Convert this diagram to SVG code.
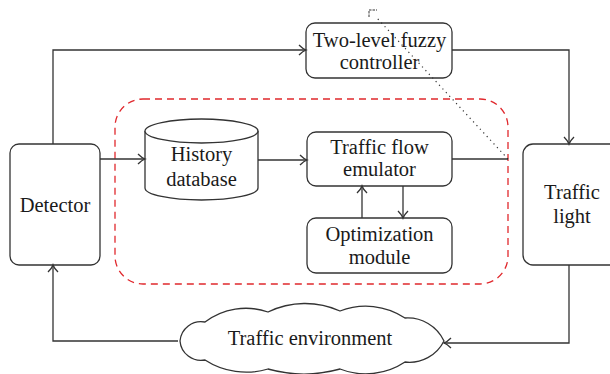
<svg xmlns="http://www.w3.org/2000/svg" width="610" height="374" viewBox="0 0 610 374">
<defs>
<style>
.box{fill:#fff;stroke:#333;stroke-width:1.3}
.ln{fill:none;stroke:#333;stroke-width:1.3}
.t{font-family:"Liberation Serif","Times New Roman",serif;font-size:20.5px;fill:#1a1a1a;text-anchor:middle}
</style>
<marker id="arr" viewBox="-10 -6 12 12" markerWidth="12" markerHeight="12" refX="0" refY="0" orient="auto" markerUnits="userSpaceOnUse">
<path d="M-7,-5 Q-3,-1 0,0 Q-3,1 -7,5" fill="none" stroke="#333" stroke-width="1.3"/>
</marker>
</defs>
<rect width="610" height="374" fill="#fff"/>
<g id="boundary">
<rect x="115" y="99" width="393" height="185" rx="28" fill="none" stroke="#e0282d" stroke-width="1.3" stroke-dasharray="7 5"/>
</g>
<g id="detector">
<rect class="box" x="10" y="144" width="90" height="121" rx="9"/>
<text class="t" x="55" y="212">Detector</text>
</g>
<g id="history-database">
<path class="box" d="M145,131 V188 A56.5,12 0 0 0 258,188 V131"/>
<ellipse class="box" cx="201.5" cy="131" rx="56.5" ry="12"/>
<text class="t" x="201.5" y="161">History</text>
<text class="t" x="201.5" y="186">database</text>
</g>
<g id="traffic-flow-emulator">
<rect class="box" x="307" y="132" width="145" height="54" rx="9"/>
<text class="t" x="379.5" y="154">Traffic flow</text>
<text class="t" x="379.5" y="176">emulator</text>
</g>
<g id="optimization-module">
<rect class="box" x="307" y="218" width="145" height="55" rx="9"/>
<text class="t" x="379.5" y="241">Optimization</text>
<text class="t" x="379.5" y="264">module</text>
</g>
<g id="two-level-fuzzy-controller">
<rect class="box" x="306" y="23" width="146" height="55" rx="9"/>
<text class="t" x="379.5" y="47">Two-level fuzzy</text>
<text class="t" x="379.5" y="69">controller</text>
</g>
<g id="traffic-light">
<rect class="box" x="523" y="144" width="97" height="121" rx="10"/>
<text class="t" x="572" y="199">Traffic</text>
<text class="t" x="572" y="223">light</text>
</g>
<g id="traffic-environment">
<path class="box" d="M180,341 A21.1,21.1 0 0 1 205,322 A67.6,67.6 0 0 1 268,312 A85,85 0 0 1 340,311 A70.8,70.8 0 0 1 405,318 A40.1,40.1 0 0 1 444,341 A38.5,38.5 0 0 1 405,362 A70.8,70.8 0 0 1 340,369 A132,132 0 0 1 268,369 A75.7,75.7 0 0 1 205,360 A21.1,21.1 0 0 1 180,341 Z"/>
<text class="t" x="310" y="345">Traffic environment</text>
</g>
<g id="connectors">
<path class="ln" d="M53,144 V50 H306" marker-end="url(#arr)"/>
<path class="ln" d="M452,50 H569 V144" marker-end="url(#arr)"/>
<path class="ln" d="M100,159 H145" marker-end="url(#arr)"/>
<path class="ln" d="M258,160 H307" marker-end="url(#arr)"/>
<path class="ln" d="M452,159 H508"/>
<path d="M508,159 L376,17" fill="none" stroke="#333" stroke-width="1.2" stroke-dasharray="1.2 3.8"/>
<path d="M369,17 V10 H377" fill="none" stroke="#333" stroke-width="1" stroke-dasharray="2.5 1"/>
<path class="ln" d="M362,218 V186" marker-end="url(#arr)"/>
<path class="ln" d="M403,186 V218" marker-end="url(#arr)"/>
<path class="ln" d="M569,265 V343 H444" marker-end="url(#arr)"/>
<path class="ln" d="M178,341 H53 V265" marker-end="url(#arr)"/>
</g>
</svg>
